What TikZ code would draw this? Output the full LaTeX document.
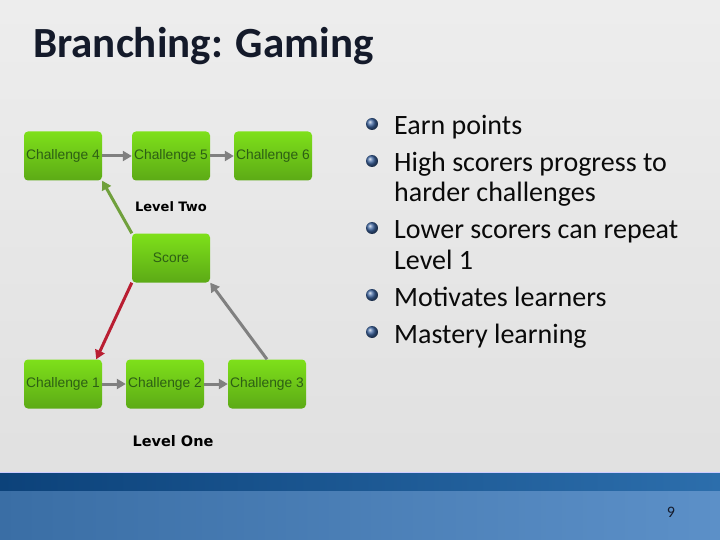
\documentclass[tikz,border=0pt]{standalone}
\usepackage{fontspec}
\setmainfont{Carlito}
\newfontfamily\boxfont{Liberation Sans}
\newfontfamily\levelfont{DejaVu Sans}
\usetikzlibrary{arrows.meta}

\begin{document}
\begin{tikzpicture}[x=1pt,y=-1pt,
    challenge/.style={rounded corners=4pt,top color=boxtop,bottom color=boxbot,
      minimum width=78pt,minimum height=49pt,inner sep=0pt,text=boxtext,
      font=\boxfont\fontsize{13.8}{16}\selectfont},
    flow/.style={draw=flowgrey,line width=3pt,-{Triangle[length=9pt,width=10pt]}},
    level/.style={font=\levelfont\bfseries\fontsize{13}{15}\selectfont},
    point/.style={anchor=base west,inner sep=0pt,text=pointtext,
      font=\fontsize{28}{32}\selectfont}]

  \definecolor{boxtop}{RGB}{126,224,26} % light green
  \definecolor{boxbot}{RGB}{92,170,22} % dark green
  \definecolor{boxtext}{RGB}{45,95,20}
  \definecolor{flowgrey}{RGB}{128,128,128}
  \definecolor{upgreen}{RGB}{112,160,60}
  \definecolor{downred}{RGB}{185,30,50}
  \definecolor{pointtext}{RGB}{10,10,10}
  \definecolor{bulletblue}{RGB}{60,100,160}
  \definecolor{titlenavy}{RGB}{20,26,42}

  % Background and frame
  \useasboundingbox (0,0) rectangle (720,540);
  \shade[top color=black!7,bottom color=black!12] (0,0) rectangle (720,473);
  \shade[left color={rgb,255:red,12;green,66;blue,122},right color={rgb,255:red,44;green,110;blue,172}]
    (0,473) rectangle (720,491);
  \shade[left color={rgb,255:red,58;green,110;blue,165},right color={rgb,255:red,92;green,144;blue,200}]
    (0,491) rectangle (720,540);
  \draw[white!80!blue,line width=1pt] (0,472.5) -- (720,472.5);

  % Title
  \node[anchor=base west,inner sep=0pt,text=titlenavy,font=\bfseries\fontsize{43}{50}\selectfont]
    (title) at (33,58) {Branching: Gaming};

  % Level two
  \node[challenge] (c4) at (63,156) {Challenge 4};
  \node[challenge] (c5) at (171,156) {Challenge 5};
  \node[challenge] (c6) at (273,156) {Challenge 6};
  \node[level] (two) at (171,207) {Level Two};

  % Score
  \node[challenge] (score) at (171,258) {Score};

  % Level one
  \node[challenge] (c1) at (63,384) {Challenge 1};
  \node[challenge] (c2) at (165,384) {Challenge 2};
  \node[challenge] (c3) at (267,384) {Challenge 3};
  \node[level,font=\levelfont\bfseries\fontsize{14.5}{17}\selectfont] (one) at (173,441) {Level One};

  % Draw flow arrows
  \draw[flow] (c4) -- (c5);
  \draw[flow] (c5) -- (c6);
  \draw[flow] (c1) -- (c2);
  \draw[flow] (c2) -- (c3);

  % Draw branches from score
  \draw[flow,draw=upgreen] (score.north west) -- (c4.south east);
  \draw[flow,draw=downred] (score.south west) -- ([xshift=-6pt]c1.north east);
  \draw[flow] (c3.north) -- (score.south east);

  % Points
  \node[point] (earn) at (394,135) {Earn points};
  \node[point] (high) at (394,172) {High scorers progress to};
  \node[point] (higha) at (394,202) {harder challenges};
  \node[point] (lower) at (394,239) {Lower scorers can repeat};
  \node[point] (lowera) at (394,269) {Level 1};
  \node[point] (motiv) at (394,306) {Motivates learners};
  \node[point] (mastery) at (394,343) {Mastery learning};
  \foreach \p in {earn,high,lower,motiv,mastery}
    \shade[ball color=bulletblue] ([xshift=-22pt,yshift=11pt]\p.base west) circle (6pt);

  % Page number
  \node[text=titlenavy,font=\fontsize{16}{18}\selectfont] (page) at (671,512) {9};

\end{tikzpicture}
\end{document}
